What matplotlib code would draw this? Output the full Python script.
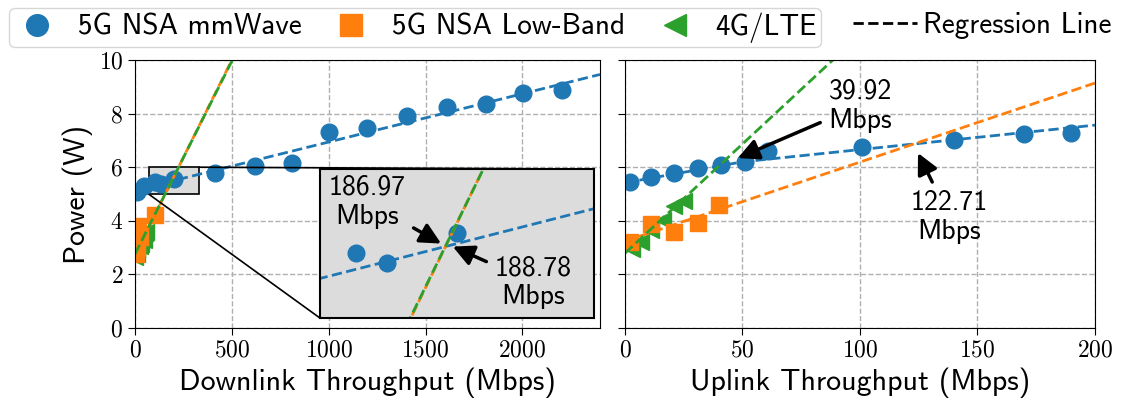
import matplotlib
matplotlib.use('Agg')
import matplotlib.pyplot as plt
import numpy as np
from matplotlib.lines import Line2D
from mpl_toolkits.axes_grid1.inset_locator import mark_inset

plt.rcParams['font.family'] = ['cmss10', 'DejaVu Sans']
plt.rcParams['axes.unicode_minus'] = False
plt.rcParams['axes.formatter.use_mathtext'] = True

# colours
c_mmw = '#1f77b4'
c_low = '#ff7f0e'
c_lte = '#2ca02c'

# ---- downlink data (Mbps, W)
dl_mmw_x = [10, 45, 104, 134, 200, 415, 620, 810, 1000, 1200, 1405, 1610, 1810, 2005, 2205]
dl_mmw_y = [5.08, 5.3, 5.44, 5.37, 5.57, 5.8, 6.03, 6.15, 7.3, 7.48, 7.92, 8.26, 8.36, 8.76, 8.88]
dl_low_x = [3, 8, 12, 18, 25, 103]
dl_low_y = [2.75, 3.5, 3.0, 3.8, 3.4, 4.22]
dl_lte_x = [2, 4, 6, 8, 10, 13, 16, 20, 24, 28, 33, 38, 44, 50, 56]
dl_lte_y = [2.65, 2.9, 3.1, 2.75, 3.3, 2.95, 3.5, 3.2, 3.05, 3.35, 3.15, 3.45, 3.3, 3.55, 3.6]

# regression (intercept, slope)
dl_fit_mmw = (5.14, 0.0018)
dl_fit_low = (2.73, 0.01454)
dl_fit_lte = (2.76, 0.01440)

# ---- uplink data
ul_mmw_x = [2, 11, 21, 31, 41, 51, 61, 101, 140, 170, 190]
ul_mmw_y = [5.45, 5.63, 5.78, 5.96, 6.1, 6.2, 6.62, 6.75, 7.02, 7.24, 7.28]
ul_low_x = [2, 11, 21, 31, 40]
ul_low_y = [3.22, 3.88, 3.57, 3.92, 4.6]
ul_lte_x = [3, 7, 11, 16, 21, 25]
ul_lte_y = [2.95, 3.2, 3.65, 4.02, 4.55, 4.75]

# uplink regression lines: mmWave is segmented (breakpoints), others linear
ul_fit_mmw_x = [0, 50, 200]
ul_fit_mmw_y = [5.42, 6.2, 7.57]
ul_fit_low = (3.24, 0.0295)
ul_fit_lte = (2.79, 0.0815)

dl_cross = [186.97, 188.78]
ul_cross = [39.92, 122.71]

ms = 12
fig = plt.figure(figsize=(11.22, 4.04), dpi=100)
ax1 = fig.add_axes([0.1203, 0.1881, 0.4144, 0.6634])
ax2 = fig.add_axes([0.557, 0.1881, 0.4189, 0.6634], sharey=ax1)

dash_a = (0, (3.7, 1.6))
dash_b = (1.2, (3.7, 1.6))


def fit_line(ax, fit, x0, x1, color, ls=dash_a):
    xs = np.array([x0, x1])
    ax.plot(xs, fit[0] + fit[1] * xs, ls=ls, color=color, lw=2)


for ax in (ax1, ax2):
    ax.grid(True, linestyle='--', color='#b0b0b0', lw=1)
    ax.set_axisbelow(True)
    ax.tick_params(labelsize=17, labelfontfamily='cmr10', length=5)

# left panel
ax1.plot(dl_lte_x, dl_lte_y, '<', color=c_lte, ms=ms, ls='')
ax1.plot(dl_low_x, dl_low_y, 's', color=c_low, ms=ms, ls='')
ax1.plot(dl_mmw_x, dl_mmw_y, 'o', color=c_mmw, ms=ms, ls='')
fit_line(ax1, dl_fit_mmw, 0, 2400, c_mmw)
fit_line(ax1, dl_fit_low, 0, 2400, c_low, dash_b)
fit_line(ax1, dl_fit_lte, 0, 2400, c_lte)
ax1.set_xlim(0, 2400)
ax1.set_ylim(0, 10)
ax1.set_xticks([0, 500, 1000, 1500, 2000])
ax1.set_yticks([0, 2, 4, 6, 8, 10])
ax1.set_xlabel('Downlink Throughput (Mbps)', fontsize=21.5)
ax1.set_ylabel('Power (W)', fontsize=21.5)

# inset
axins = ax1.inset_axes([0.398, 0.037, 0.589, 0.556])
axins.set_facecolor('#dcdcdc')
axins.plot(dl_mmw_x, dl_mmw_y, 'o', color=c_mmw, ms=ms, ls='')
fit_line(axins, dl_fit_mmw, 0, 400, c_mmw)
fit_line(axins, dl_fit_low, 0, 400, c_low, dash_b)
fit_line(axins, dl_fit_lte, 0, 400, c_lte)
axins.set_xlim(70, 330)
axins.set_ylim(5, 6)
axins.set_xticks([])
axins.set_yticks([])
for s in axins.spines.values():
    s.set_linewidth(1.5)
mark_inset(ax1, axins, loc1=1, loc2=3, fc='#dcdcdc', ec='black', lw=1.2)

arrow = dict(arrowstyle='-|>,head_length=0.7,head_width=0.35', color='black', lw=2.5,
             mutation_scale=18, shrinkA=4, shrinkB=0)
axins.annotate('%.2f\nMbps' % dl_cross[0], xy=(185, 5.5), xytext=(115, 5.78),
               ha='center', va='center', fontsize=20, arrowprops=arrow)
axins.annotate('%.2f\nMbps' % dl_cross[1], xy=(196, 5.48), xytext=(272, 5.24),
               ha='center', va='center', fontsize=20, arrowprops=arrow)

# right panel
ax2.plot(ul_lte_x, ul_lte_y, '<', color=c_lte, ms=ms, ls='')
ax2.plot(ul_low_x, ul_low_y, 's', color=c_low, ms=ms, ls='')
ax2.plot(ul_mmw_x, ul_mmw_y, 'o', color=c_mmw, ms=ms, ls='')
ax2.plot(ul_fit_mmw_x, ul_fit_mmw_y, ls=dash_a, color=c_mmw, lw=2)
fit_line(ax2, ul_fit_low, 0, 200, c_low)
fit_line(ax2, ul_fit_lte, 0, 200, c_lte)
ax2.set_xlim(0, 200)
ax2.set_xticks([0, 50, 100, 150, 200])
ax2.tick_params(labelleft=False)
ax2.set_xlabel('Uplink Throughput (Mbps)', fontsize=21.5)

ax2.annotate('%.2f\nMbps' % ul_cross[0], xy=(48, 6.34), xytext=(100, 8.3),
             ha='center', va='center', fontsize=20, arrowprops=arrow)
ax2.annotate('%.2f\nMbps' % ul_cross[1], xy=(124.7, 6.53), xytext=(138, 4.15),
             ha='center', va='center', fontsize=20, arrowprops=arrow)

# legends
handles = [Line2D([], [], marker='o', color=c_mmw, ls='', ms=ms),
           Line2D([], [], marker='s', color=c_low, ls='', ms=ms),
           Line2D([], [], marker='<', color=c_lte, ls='', ms=ms)]
fig.legend(handles, ['5G NSA mmWave', '5G NSA Low-Band', '4G/LTE'], loc='upper left',
           bbox_to_anchor=(0.003, 0.995), ncol=3, fontsize=21, frameon=True, markerscale=1.3,
           handletextpad=0.6, columnspacing=0.9, borderpad=0.15, handlelength=1.6,
           borderaxespad=0.2)
fig.legend([Line2D([], [], color='black', ls='--', lw=2)], ['Regression Line'],
           loc='upper right', bbox_to_anchor=(1.0, 0.995), fontsize=21, frameon=False,
           handletextpad=0.2, handlelength=2.2, borderpad=0.15, borderaxespad=0.2)

fig.savefig('out.png', dpi=100)
